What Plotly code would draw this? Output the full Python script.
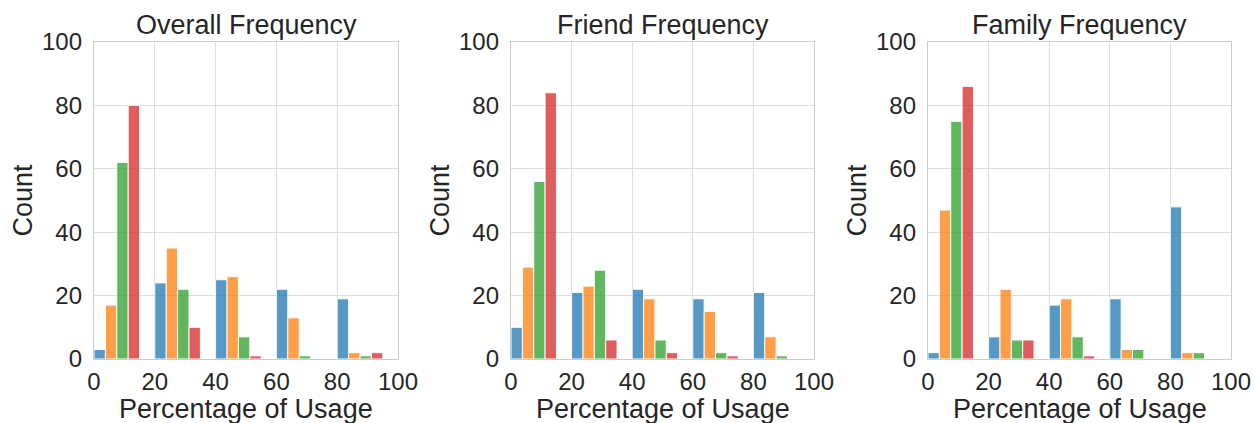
import plotly.graph_objects as go

# ---- data ----
bin_edges = [0, 20, 40, 60, 80]
bin_width = 20
panel_titles = ["Overall Frequency", "Friend Frequency", "Family Frequency"]
series_names = ["A", "B", "C", "D"]
colors = ["#1f77b4", "#ff7f0e", "#2ca02c", "#d62728"]

overall_blue = [3, 24, 25, 22, 19]
overall_orange = [17, 35, 26, 13, 2]
overall_green = [62, 22, 7, 1, 1]
overall_red = [80, 10, 1, 0, 2]

friend_blue = [10, 21, 22, 19, 21]
friend_orange = [29, 23, 19, 15, 7]
friend_green = [56, 28, 6, 2, 1]
friend_red = [84, 6, 2, 1, 0]

family_blue = [2, 7, 17, 19, 48]
family_orange = [47, 22, 19, 3, 2]
family_green = [75, 6, 7, 3, 2]
family_red = [86, 6, 1, 0, 0]

panels = [
    [overall_blue, overall_orange, overall_green, overall_red],
    [friend_blue, friend_orange, friend_green, friend_red],
    [family_blue, family_orange, family_green, family_red],
]

x_ticks = [0, 20, 40, 60, 80, 100]
y_ticks = [0, 20, 40, 60, 80, 100]

# ---- layout geometry ----
W, H = 1255, 423
plot_top, plot_bottom = 42, 359
x_px = [(94, 398), (511, 814), (928, 1231)]
shrink = 0.75

FONT = "Liberation Sans, Arial, sans-serif"
TXT = "#262626"

fig = go.Figure()
annotations = []
for p, series in enumerate(panels):
    xa = "x" if p == 0 else f"x{p+1}"
    ya = "y" if p == 0 else f"y{p+1}"
    n = len(series)
    bw = bin_width * shrink / n
    for i, vals in enumerate(series):
        xs = [e + bw * i + bw / 2 for e in bin_edges]
        fig.add_trace(go.Bar(
            x=xs, y=vals, width=bw,
            marker=dict(color=colors[i], opacity=0.75,
                        line=dict(color="white", width=1)),
            name=series_names[i], showlegend=False,
            xaxis=xa, yaxis=ya,
        ))
    x0 = x_px[p][0] / W
    x1 = x_px[p][1] / W
    dom_y = [1 - plot_bottom / H, 1 - plot_top / H]
    axkw = dict(
        showgrid=True, gridcolor="#dedede", gridwidth=1,
        showline=True, linecolor="#cccccc", linewidth=1.25, mirror=True,
        zeroline=False, automargin=False,
        ticks="outside", tickcolor="rgba(0,0,0,0)",
        tickfont=dict(family=FONT, size=24, color=TXT),
    )
    fig.layout[f"xaxis{'' if p == 0 else p+1}"] = dict(
        domain=[x0, x1], anchor=ya, range=[0, 100],
        tickvals=x_ticks, ticklen=1, **axkw)
    fig.layout[f"yaxis{'' if p == 0 else p+1}"] = dict(
        domain=dom_y, anchor=xa, range=[0, 100],
        tickvals=y_ticks, ticklen=6, **axkw)
    cx = (x0 + x1) / 2
    annotations.append(dict(
        text=panel_titles[p], xref="paper", yref="paper",
        x=cx, y=1 - 25 / H, xanchor="center", yanchor="middle",
        showarrow=False, font=dict(family=FONT, size=27, color=TXT)))
    annotations.append(dict(
        text="Percentage of Usage", xref="paper", yref="paper",
        x=cx, y=1 - 409 / H, xanchor="center", yanchor="middle",
        showarrow=False, font=dict(family=FONT, size=27, color=TXT)))
    annotations.append(dict(
        text="Count", xref="paper", yref="paper",
        x=(x_px[p][0] - 72) / W, y=1 - ((plot_top + plot_bottom) / 2) / H,
        xanchor="center", yanchor="middle", textangle=-90,
        showarrow=False, font=dict(family=FONT, size=27, color=TXT)))

fig.update_layout(
    width=W, height=H,
    margin=dict(l=0, r=0, t=0, b=0),
    paper_bgcolor="white", plot_bgcolor="white",
    barmode="overlay",
    annotations=annotations,
    font=dict(family=FONT, color=TXT),
)

fig.write_html("out.html")
